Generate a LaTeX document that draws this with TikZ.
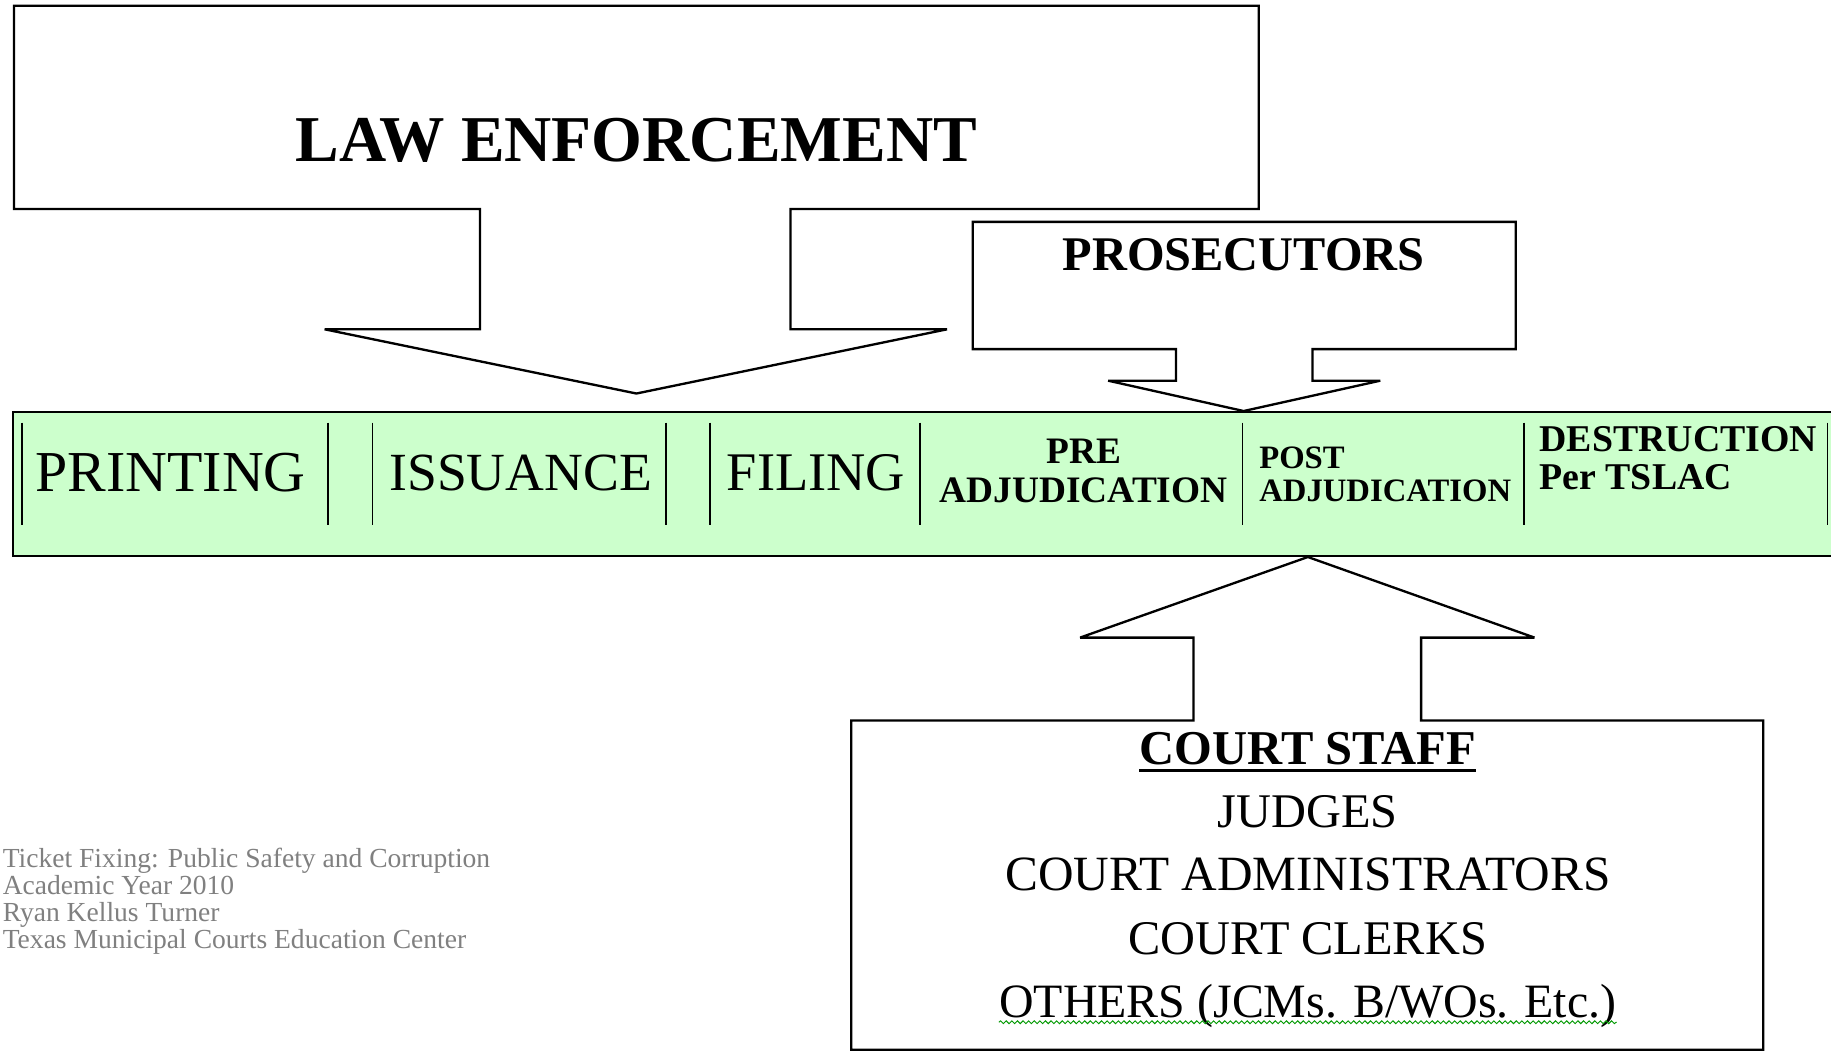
\documentclass[tikz,border=0pt]{standalone}
\usepackage{fontspec}
\setmainfont{Liberation Serif}
\usetikzlibrary{decorations.pathmorphing}
\definecolor{barfill}{HTML}{CCFFCC}
\definecolor{credgray}{HTML}{808080}
\tikzset{
	blockarrow/.style={draw=black, line width=1pt, fill=white, line join=miter, miter limit=2},
	lbl/.style={inner sep=0pt, text=black},
}
\newcommand{\fsz}[2]{\fontsize{#1}{#2}\selectfont}
\begin{document}
\begin{tikzpicture}[x=0.5pt, y=-0.5pt]
			\clip (0, 0) rectangle (1568, 903);
			\fill[white] (0, 0) rectangle (1568, 903);
			% law enforcement with its arrow
			\draw[blockarrow] (12, 5) -- (1078, 5) -- (1078, 179) -- (677, 179) -- (677, 282) -- (811, 282) -- (545, 337) -- (278, 282) -- (411, 282) -- (411, 179) -- (12, 179) -- cycle;
			\node[lbl, font=\fsz{28}{30}\bfseries] (law) at (545, 120) {LAW ENFORCEMENT};
			% prosecutors
			\draw[blockarrow] (833, 190) -- (1298, 190) -- (1298, 299) -- (1124, 299) -- (1124, 326) -- (1182, 326) -- (1065, 352) -- (949, 326) -- (1007, 326) -- (1007, 299) -- (833, 299) -- cycle;
			\node[lbl, font=\fsz{20.7}{22}\bfseries] (pros) at (1065, 218) {PROSECUTORS};
			% stages bar
			\draw[fill=barfill, line width=1pt] (11, 353) rectangle (1600, 476);
			\foreach \x in {19, 281, 319, 570, 608, 788, 1064, 1305, 1565}
				\draw[line width=0.8pt] (\x, 362) -- (\x, 450);
			\node[lbl, anchor=west, font=\fsz{24.8}{26}] (printing) at (30, 405) {PRINTING};
			\node[lbl, anchor=west, font=\fsz{23}{26}] (issuance) at (333, 405) {ISSUANCE};
			\node[lbl, anchor=west, font=\fsz{23.3}{26}] (filing) at (622, 405) {FILING};
			\node[lbl, align=center, font=\fsz{16}{16.5}\bfseries] (pre) at (928, 403.5) {PRE\\ADJUDICATION};
			\node[lbl, anchor=west, align=left, font=\fsz{14}{14}\bfseries] (post) at (1078, 406) {POST\\ADJUDICATION};
			\node[lbl, anchor=west, align=left, font=\fsz{16.2}{16.5}\bfseries] (destruction) at (1318, 392.5) {DESTRUCTION\\Per TSLAC};
			% court staff
			\draw[blockarrow] (729, 617) -- (1022, 617) -- (1022, 546) -- (925, 546) -- (1120, 477) -- (1314, 546) -- (1217, 546) -- (1217, 617) -- (1510, 617) -- (1510, 899) -- (729, 899) -- cycle;
			\node[lbl, anchor=base, font=\fsz{20.8}{22}\bfseries] (staff) at (1120, 655) {COURT STAFF};
			\draw[line width=1.3pt] ([yshift=-2.6pt]staff.base west) -- ([yshift=-2.6pt]staff.base east);
			\node[lbl, anchor=base, font=\fsz{20.7}{22}] (judges) at (1120, 709) {JUDGES};
			\node[lbl, anchor=base, font=\fsz{21.1}{22}] (admins) at (1120, 763) {COURT ADMINISTRATORS};
			\node[lbl, anchor=base, font=\fsz{20.7}{22}] (clerks) at (1120, 817) {COURT CLERKS};
			\node[lbl, anchor=base, font=\fsz{20.5}{22}] (others) at (1120, 871) {OTHERS (JCMs. B/WOs. Etc.)};
			\draw[green!60!black, line width=0.4pt, decorate, decoration={snake, amplitude=0.6pt, segment length=2.4pt}] ([yshift=-2.2pt]others.base west) -- ([yshift=-2.2pt]others.base east);
			% credits
			\node[lbl, anchor=north west, align=left, text=credgray, font=\fsz{11.8}{11.5}] (credit) at (2, 726) {Ticket Fixing: Public Safety and Corruption\\Academic Year 2010\\Ryan Kellus Turner\\Texas Municipal Courts Education Center};
		\end{tikzpicture}
\end{document}
